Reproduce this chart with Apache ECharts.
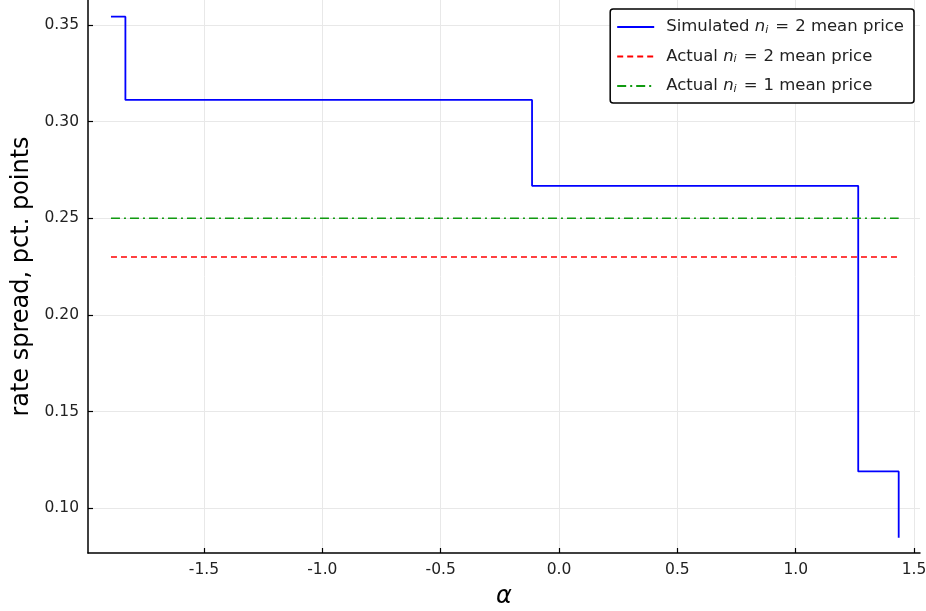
<!DOCTYPE html>
<html>
<head>
<meta charset="utf-8">
<script src="https://cdn.jsdelivr.net/npm/echarts@6/dist/echarts.min.js"></script>
<style>
  html, body { margin: 0; padding: 0; background: #fff; }
  #chart { width: 926px; height: 611px; }
</style>
</head>
<body>
<div id="chart"></div>
<script>
// Step points of the simulated mean price (alpha, rate spread)
const simAlpha = [-1.893, -1.832, -0.114, 1.264, 1.435];
const simSpread = [0.3543, 0.3112, 0.2668, 0.1191, 0.0848];

// Observed mean prices, drawn as flat reference lines over the same alpha span
const actualAlphaSpan = [-1.893, 1.435];
const actualTwo = 0.23;
const actualOne = 0.25;

// Tick labels
const xTicks = [-1.5, -1.0, -0.5, 0.0, 0.5, 1.0, 1.5];
const yTicks = [0.10, 0.15, 0.20, 0.25, 0.30, 0.35];

const seriesNames = [
  'Simulated n_i = 2 mean price',
  'Actual n_i = 2 mean price',
  'Actual n_i = 1 mean price'
];
const legendLabels = {
  'Simulated n_i = 2 mean price': 'Simulated {it|n}{sub|i}{eq|=}{t|2 mean price}',
  'Actual n_i = 2 mean price': 'Actual {it|n}{sub|i}{eq|=}{t|2 mean price}',
  'Actual n_i = 1 mean price': 'Actual {it|n}{sub|i}{eq|=}{t|1 mean price}'
};

const FONT = '"DejaVu Sans", sans-serif';
const FS = 15.5;   // tick labels
const LFS = 16.5;  // legend text
const chart = echarts.init(document.getElementById('chart'), null, { renderer: 'canvas' });

const axisCommon = {
  type: 'value',
  axisLine: { show: true, onZero: false, lineStyle: { color: '#000', width: 1.5 } },
  axisTick: { show: true, inside: true, length: 5, lineStyle: { color: '#000', width: 1.2 } },
  splitLine: { show: true, lineStyle: { color: '#e8e8e8', width: 1 } },
  nameTextStyle: { fontFamily: FONT, color: '#000', fontSize: 24 }
};

chart.setOption({
  animation: false,
  backgroundColor: '#fff',
  grid: { left: 88, right: 6, top: 0, bottom: 58, containLabel: false, outerBoundsMode: 'none' },
  xAxis: Object.assign({}, axisCommon, {
    min: -1.99, max: 1.525,
    name: 'α', nameLocation: 'middle', nameGap: 32,
    nameTextStyle: { fontFamily: FONT, color: '#000', fontSize: 24, fontStyle: 'italic' },
    axisTick: Object.assign({}, axisCommon.axisTick, { customValues: xTicks }),
    axisLabel: {
      customValues: xTicks, margin: 9, color: '#222', fontFamily: FONT, fontSize: FS,
      formatter: v => v.toFixed(1)
    }
  }),
  yAxis: Object.assign({}, axisCommon, {
    min: 0.0769, max: 0.3629,
    name: 'rate spread, pct. points', nameLocation: 'middle', nameGap: 52,
    axisTick: Object.assign({}, axisCommon.axisTick, { customValues: yTicks }),
    axisLabel: {
      customValues: yTicks, margin: 9, color: '#222', fontFamily: FONT, fontSize: FS,
      formatter: v => v.toFixed(2)
    }
  }),
  legend: {
    right: 12, top: 9,
    orient: 'vertical',
    padding: [9, 10, 8, 6],
    itemGap: 11.5,
    itemWidth: 37, itemHeight: 14,
    borderColor: '#000', borderWidth: 1.5, borderRadius: 3,
    backgroundColor: '#fff',
    itemStyle: { opacity: 0 },
    data: seriesNames,
    formatter: name => legendLabels[name],
    textStyle: {
      fontFamily: FONT, fontSize: LFS, color: '#222', lineHeight: 18, padding: [0, 0, 0, 7],
      rich: {
        it: { fontFamily: FONT, fontSize: LFS, fontStyle: 'italic', color: '#222' },
        sub: { fontFamily: FONT, fontSize: 11, fontStyle: 'italic', color: '#222', padding: [6, 1, 0, 0] },
        eq: { fontFamily: FONT, fontSize: LFS, color: '#222', padding: [0, 6, 0, 6] },
        t: { fontFamily: FONT, fontSize: LFS, color: '#222' }
      }
    }
  },
  series: [
    {
      name: seriesNames[0], type: 'line', step: 'end', symbol: 'none',
      data: simAlpha.map((a, i) => [a, simSpread[i]]),
      lineStyle: { color: '#0000ff', width: 1.8 }, itemStyle: { color: '#0000ff' }, z: 3
    },
    {
      name: seriesNames[1], type: 'line', symbol: 'none',
      data: actualAlphaSpan.map(a => [a, actualTwo]),
      lineStyle: { color: '#ff0000', width: 1.5, type: [6, 4] }, itemStyle: { color: '#ff0000' }
    },
    {
      name: seriesNames[2], type: 'line', symbol: 'none',
      data: actualAlphaSpan.map(a => [a, actualOne]),
      lineStyle: { color: '#109a10', width: 1.5, type: [9, 4, 2, 4] }, itemStyle: { color: '#109a10' }
    }
  ]
});
</script>
</body>
</html>
